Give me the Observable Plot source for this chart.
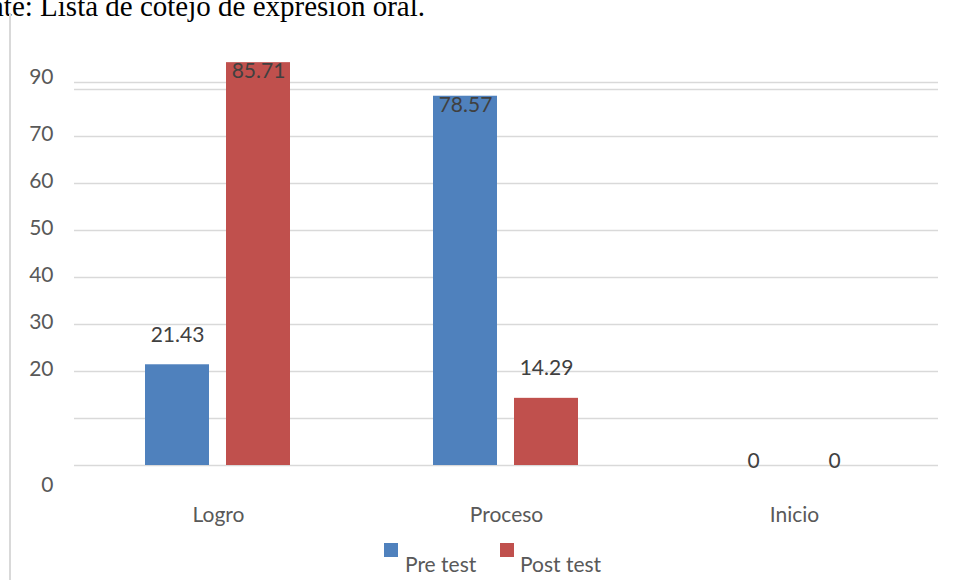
<!DOCTYPE html>
<html><head><meta charset="utf-8">
<script src="https://cdn.jsdelivr.net/npm/d3@7"></script>
<script src="https://cdn.jsdelivr.net/npm/@observablehq/plot@0.6"></script>
<style>
body{margin:0;background:#fff;}
#wrap{position:relative;width:956px;height:580px;overflow:hidden;font-family:Lato,sans-serif;background:#fff;}
#caption{position:absolute;right:531px;top:-8px;font-family:"Liberation Serif","Times New Roman",serif;font-size:29px;line-height:1;white-space:nowrap;color:#000;}
#vline{position:absolute;left:9px;top:13px;width:2px;height:580px;background:#d9d9d9;}
.sw{position:absolute;width:14px;height:14px;top:543px;}
.lt{position:absolute;top:552px;font-size:21px;line-height:24px;color:#595959;white-space:nowrap;}
#chart{position:absolute;left:0;top:0;}
</style></head><body><div id="wrap">
<div id="chart"></div>
<div id="caption">Fuente: Lista de cotejo de expresión oral.</div>
<div id="vline"></div>
<div id="legend"></div>
</div>
<script>
const categories = ["Logro","Proceso","Inicio"];
const series = ["Pre test","Post test"];
const preTest = [21.43, 78.57, 0];
const postTest = [85.71, 14.29, 0];
const yTicks = [80,70,60,50,40,30,20,0];
const yTickLabels = ["90","70","60","50","40","30","20","0"];
const gridValues = [0,10,20,30,40,50,60,70,80,81.5];
const colors = ["#4f81bd","#c0504d"];

const data = categories.flatMap((c,i)=>[
  {cat:c, series:series[0], value:preTest[i]},
  {cat:c, series:series[1], value:postTest[i]}
]);
const fmt = d => d.value === 0 ? "0" : d.value.toFixed(2);
const lab = t => yTickLabels[yTicks.indexOf(t)];

const chart = Plot.plot({
  width:956, height:580,
  marginTop:42, marginBottom:115, marginLeft:73, marginRight:17,
  style:{fontFamily:"Lato, sans-serif", fontSize:"21px", color:"#595959", background:"transparent"},
  fx:{domain:categories, padding:0, label:null},
  x:{domain:series, paddingInner:0.207, paddingOuter:0.862, axis:null},
  y:{domain:[0,90]},
  color:{domain:series, range:colors},
  marks:[
    Plot.ruleY(gridValues,{stroke:"#d9d9d9", strokeWidth:1.5}),
    Plot.barY(data,{fx:"cat", x:"series", y:"value", fill:"series"}),
    Plot.text(data.filter(d=>d.value>50),{fx:"cat", x:"series", y:"value", text:fmt, dy:9, fill:"#404040"}),
    Plot.text(data.filter(d=>d.value>0 && d.value<=50),{fx:"cat", x:"series", y:"value", text:fmt, dy:-30, fill:"#404040"}),
    Plot.text(data.filter(d=>d.value===0),{fx:"cat", x:"series", y:"value", text:fmt, dy:-4, fill:"#404040"}),
    Plot.axisFx({anchor:"bottom", tickSize:0, tickPadding:42, label:null, fill:"#595959"}),
    Plot.axisY(yTicks.filter(t=>t!==80 && t!==0),{tickSize:0, tickPadding:21, tickFormat:lab, label:null, dy:-2, fill:"#595959"}),
    Plot.axisY([80],{tickSize:0, tickPadding:21, tickFormat:lab, label:null, dy:-12, fill:"#595959"}),
    Plot.axisY([0],{tickSize:0, tickPadding:21, tickFormat:lab, label:null, dy:20, fill:"#595959"})
  ]
});
document.getElementById("chart").appendChild(chart);

const legend = document.getElementById("legend");
const legendX = [[384,405],[500,520]];
series.forEach((s,i)=>{
  const sw = document.createElement("div");
  sw.className="sw"; sw.style.left=legendX[i][0]+"px"; sw.style.background=colors[i];
  const t = document.createElement("div");
  t.className="lt"; t.style.left=legendX[i][1]+"px"; t.textContent=s;
  legend.appendChild(sw); legend.appendChild(t);
});
</script>
</body></html>
